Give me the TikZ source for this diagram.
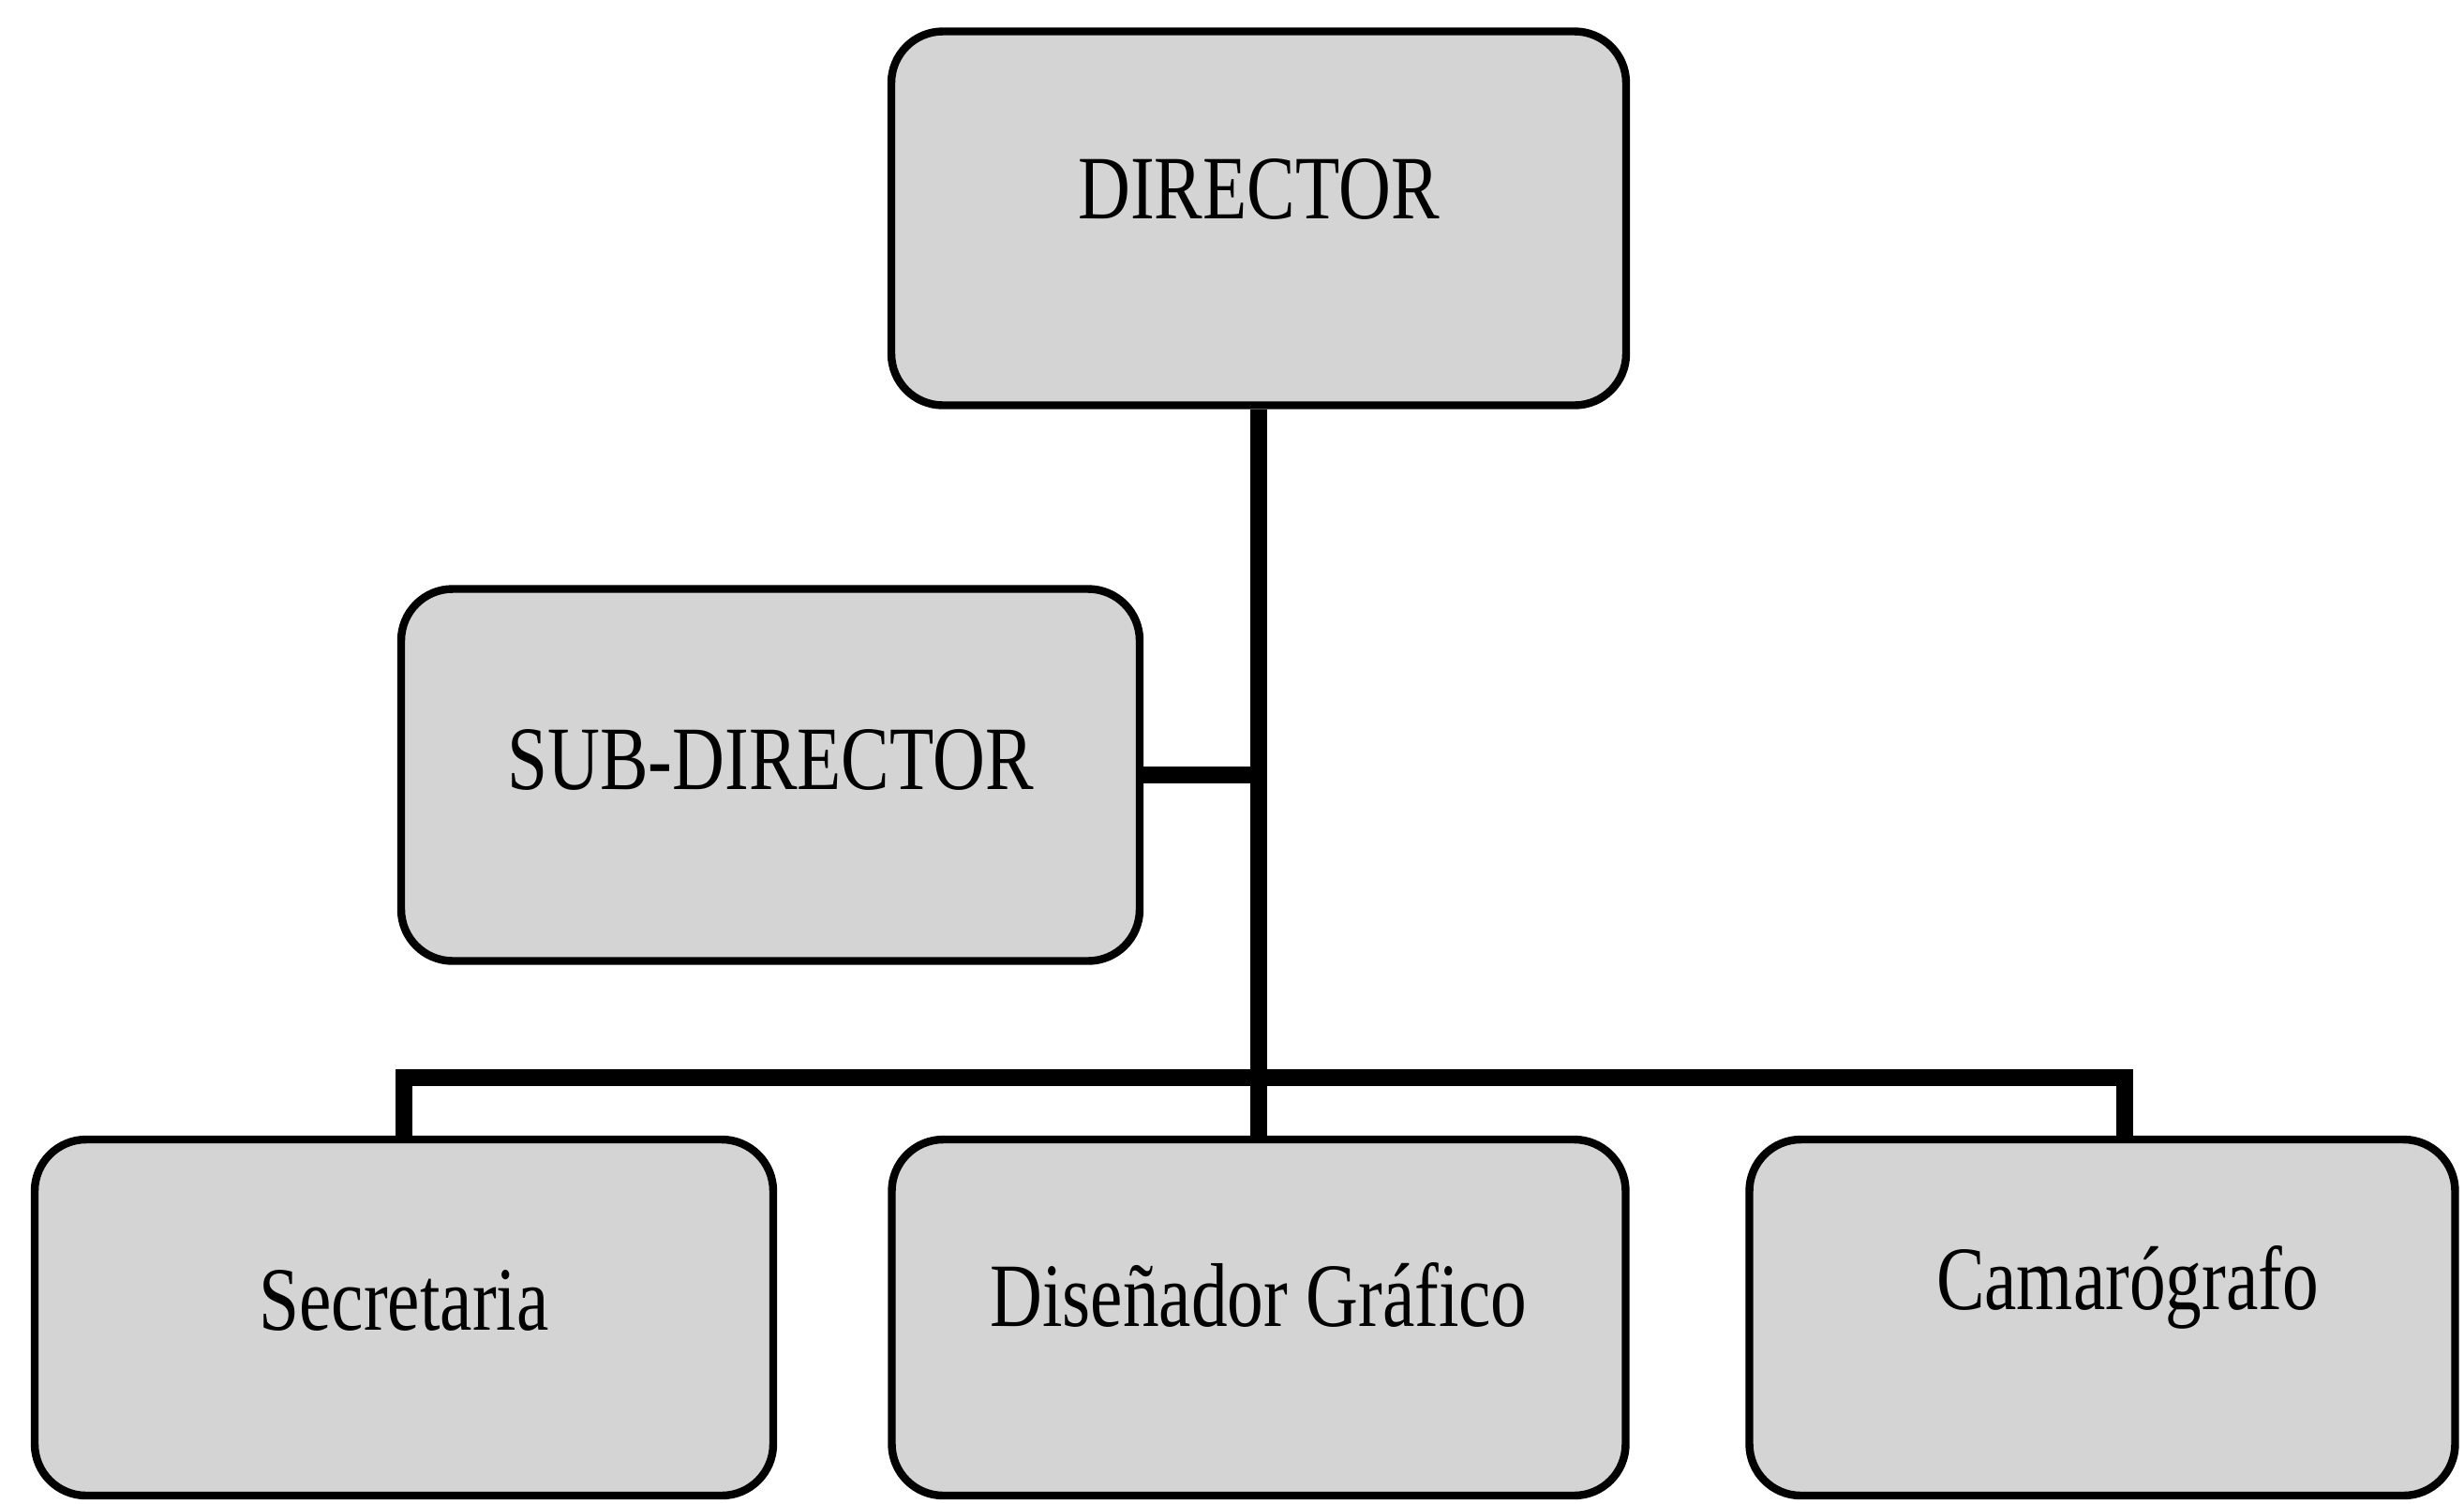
\documentclass[tikz,border=0pt]{standalone}
\usepackage{fontspec}
\setmainfont{Liberation Serif}
\begin{document}
\begin{tikzpicture}[line join=miter,
  post/.style={draw,line width=2.4pt,rounded corners=0.55cm,fill=black!17,
    font=\fontsize{22}{26}\selectfont,inner sep=0pt},
  link/.style={line width=5pt}]
  \useasboundingbox (0,0) rectangle (26.29,-16.04);
  \node[post,minimum width=7.84cm,minimum height=3.99cm] (dir) at (13.43,-2.33)
    {\raisebox{0.64cm}{\scalebox{1}[1.25]{DIRECTOR}}};
  \node[post,minimum width=7.88cm,minimum height=3.97cm] (sub) at (8.22,-8.27)
    {\raisebox{0.34cm}{\scalebox{1}[1.25]{SUB-DIRECTOR}}};
  \node[post,minimum width=7.88cm,minimum height=3.80cm] (sec) at (4.31,-14.06)
    {\raisebox{0.38cm}{\scalebox{1}[1.25]{Secretaria}}};
  \node[post,minimum width=7.83cm,minimum height=3.80cm] (dis) at (13.43,-14.06)
    {\raisebox{0.5cm}{\scalebox{1}[1.25]{Dise\~nador Gr\'afico}}};
  \node[post,minimum width=7.53cm,minimum height=3.80cm] (cam) at (22.43,-14.06)
    {\hspace{0.54cm}\raisebox{0.86cm}{\scalebox{1}[1.25]{Camar\'ografo}}};
  \coordinate (bar) at (13.43,-11.50);
  \coordinate (camtop) at (22.67,-12.16);
  \draw[link] (dir.south)--(dis.north);
  \draw[link] (sub.east)--(sub.east -| dir.south);
  \draw[link] (sec.north) |- (bar) -| (camtop);
\end{tikzpicture}
\end{document}
